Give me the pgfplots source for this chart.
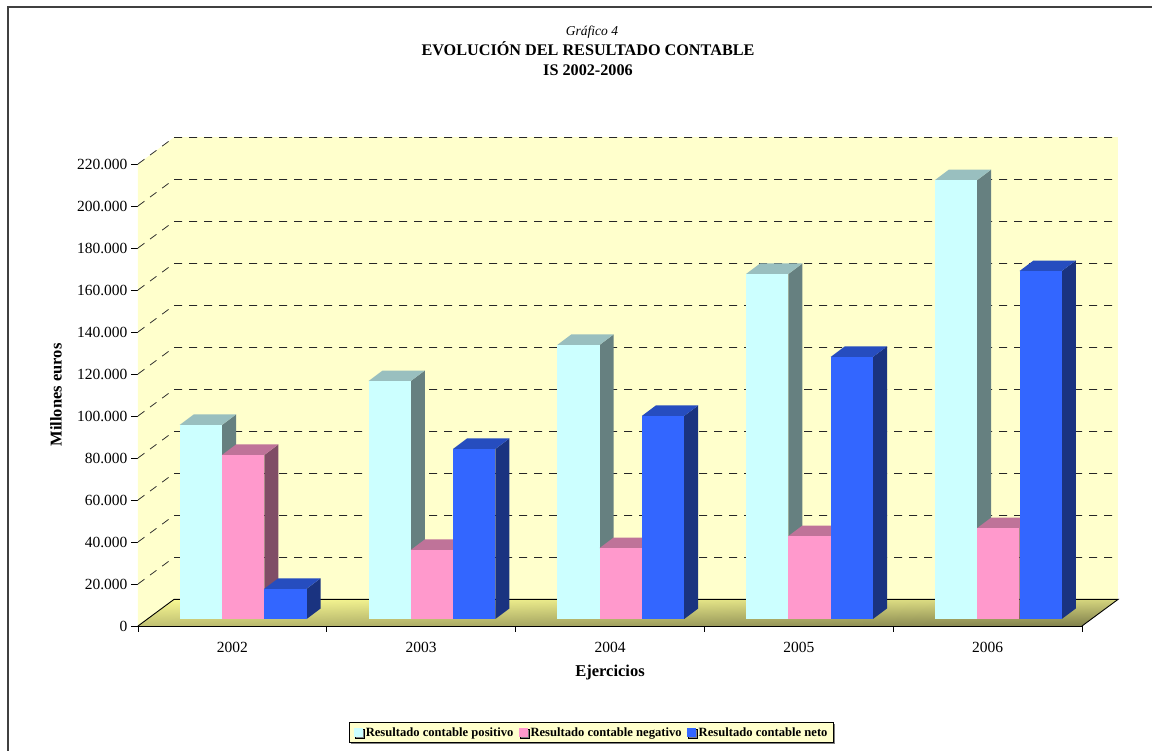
\documentclass[border=0pt]{standalone}
\usepackage{pgfplots}
\usepackage{pgfplotstable}
\usepackage{fontspec}
\setmainfont{Liberation Serif}
\pgfplotsset{compat=1.18}
\usetikzlibrary{shadows}

\definecolor{wall}{HTML}{FFFFCC}
\definecolor{cyanF}{HTML}{CCFFFF}\definecolor{cyanT}{HTML}{99BFBF}\definecolor{cyanS}{HTML}{668080}
\definecolor{pinkF}{HTML}{FF99CC}\definecolor{pinkT}{HTML}{BF7399}\definecolor{pinkS}{HTML}{804D66}
\definecolor{blueF}{HTML}{3366FF}\definecolor{blueT}{HTML}{264DBF}\definecolor{blueS}{HTML}{1A3380}

% floor of the chart box: darkens towards the front and towards the right
% (the filled path covers the central 50bp square of the shading)
\pgfdeclarefunctionalshading{floorshade}{\pgfpoint{-50bp}{-50bp}}{\pgfpoint{50bp}{50bp}}{}{
  50 div .5 add exch 50 div .5 add exch
  exch dup .12 mul .23 add 3 -1 roll mul exch .27 mul neg .77 add add
  dup .98 mul exch dup .98 mul exch .58 mul
}

% year, slot (0,1,2), value, colour stem: one solid bar with its side and top faces
\newcommand{\solidbar}[4]{%
  \pgfmathsetmacro\xl{#1+(-52.7+42.3*#2)/188.8}%
  \pgfmathsetmacro\xr{\xl+0.2240}%
  \pgfmathsetmacro\xd{\xr+0.0742}%
  \pgfmathsetmacro\xb{\xl+0.0742}%
  \edef\yb{\the\numexpr3333\relax}%
  \edef\ybd{\the\numexpr3333+5000\relax}%
  \edef\yt{\the\numexpr3333+#3\relax}%
  \edef\ytd{\the\numexpr3333+#3+5000\relax}%
  \edef\drawfaces{%
    \noexpand\addplot[forget plot,fill=#4S,draw=none] coordinates {(\xr,\yb)(\xd,\ybd)(\xd,\ytd)(\xr,\yt)} --cycle;
    \noexpand\addplot[forget plot,fill=#4T,draw=none] coordinates {(\xl,\yt)(\xr,\yt)(\xd,\ytd)(\xb,\ytd)} --cycle;
    \noexpand\addplot[forget plot,fill=#4F,draw=none] coordinates {(\xl,\yb)(\xr,\yb)(\xr,\yt)(\xl,\yt)} --cycle;
  }\drawfaces
}

% one dashed gridline across the side wall and the back wall
\newcommand{\gridat}[1]{%
  \edef\ygrid{\the\numexpr#1+12667\relax}%
  \edef\drawgrid{%
    \noexpand\addplot[forget plot,black!85,line width=0.75pt,dash pattern=on 8pt off 7pt] coordinates {(2001.5,#1)(2001.6907,\ygrid)(2006.6907,\ygrid)};
  }\drawgrid
}

\begin{document}
\begin{tikzpicture}
\path[use as bounding box] (-138pt,-125pt) rectangle (1014pt,626pt);
\draw[line width=2pt,black!75] (-130.2pt,-125pt) -- (-130.2pt,619.2pt) -- (1014pt,619.2pt);
\begin{axis}[
  scale only axis, width=944pt, height=462pt,
  xmin=2001.5, xmax=2006.5, ymin=0, ymax=220000,
  clip=false,
  axis lines=left,
  axis line style={-,line width=0.9pt,black},
  tick align=outside,
  xtick={2002,2003,2004,2005,2006},
  xticklabels={2002,2003,2004,2005,2006},
  minor xtick={2001.5,2002.5,2003.5,2004.5,2005.5,2006.5},
  major x tick style={draw=none},
  minor tick length=6pt,
  minor x tick style={line width=0.8pt,black},
  ytick={0,20000,40000,60000,80000,100000,120000,140000,160000,180000,200000,220000},
  yticklabels={0,20.000,40.000,60.000,80.000,100.000,120.000,140.000,160.000,180.000,200.000,220.000},
  major tick length=7pt,
  y tick style={line width=0.8pt,black},
  scaled y ticks=false,
  tick label style={font=\fontsize{15.5}{17}\selectfont},
  xticklabel style={yshift=-6pt},
  xlabel={Ejercicios},
  ylabel={Millones euros},
  label style={font=\fontsize{16.5}{18}\selectfont\bfseries},
  xlabel style={at={(axis description cs:0.5,-0.1)},anchor=center},
  ylabel style={at={(axis description cs:-0.0869,0.5)},anchor=center},
  title={\hspace*{8pt}{\fontsize{13.5}{20}\selectfont\textit{Gráfico 4}}\\\textbf{EVOLUCIÓN DEL RESULTADO CONTABLE}\\\textbf{IS 2002-2006}},
  title style={at={(axis description cs:0.4767,1.2944)},anchor=north,align=center,
    font=\fontsize{16.2}{20}\selectfont},
  legend style={at={(axis description cs:0.7372,-0.2075)},anchor=north east,
    legend columns=-1,fill=wall,draw=black,line width=0.8pt,
    font=\fontsize{12.6}{14}\selectfont\bfseries,
    inner xsep=4pt,inner ysep=3pt,
    general shadow={shadow xshift=1.5pt,shadow yshift=-1.5pt,fill=gray},
    /tikz/every even column/.style={column sep=3pt}},
  legend cell align=left,
  swatch/.style={legend image code/.code={\path[draw=none] (0pt,0pt) -- (10pt,0pt);\fill[##1,draw=none] (0pt,-4.5pt) rectangle (9pt,4.5pt);}},
]
% walls and floor
\addplot[forget plot,fill=wall,draw=none] coordinates {(2001.5,0)(2001.6907,12667)(2001.6907,232667)(2001.5,220000)} --cycle;
\addplot[forget plot,fill=wall,draw=none] coordinates {(2001.6907,12667)(2006.6907,12667)(2006.6907,232667)(2001.6907,232667)} --cycle;
\path[shading=floorshade] (axis cs:2001.5,0) -- (axis cs:2006.5,0) -- (axis cs:2006.6907,12667) -- (axis cs:2001.6907,12667) -- cycle;
\addplot[forget plot,black,line width=0.9pt] coordinates {(2001.5,0)(2001.6907,12667)(2006.6907,12667)(2006.5,0)};
% gridlines
\gridat{20000}\gridat{40000}\gridat{60000}\gridat{80000}\gridat{100000}\gridat{120000}
\gridat{140000}\gridat{160000}\gridat{180000}\gridat{200000}\gridat{220000}
% Resultado contable positivo
\solidbar{2002}{0}{92400}{cyan}
\solidbar{2003}{0}{113300}{cyan}
\solidbar{2004}{0}{130500}{cyan}
\solidbar{2005}{0}{164300}{cyan}
\solidbar{2006}{0}{209000}{cyan}
% Resultado contable negativo
\solidbar{2002}{1}{78100}{pink}
\solidbar{2003}{1}{32900}{pink}
\solidbar{2004}{1}{33800}{pink}
\solidbar{2005}{1}{39500}{pink}
\solidbar{2006}{1}{43300}{pink}
% Resultado contable neto
\solidbar{2002}{2}{14400}{blue}
\solidbar{2003}{2}{81000}{blue}
\solidbar{2004}{2}{96700}{blue}
\solidbar{2005}{2}{124800}{blue}
\solidbar{2006}{2}{165700}{blue}
\addlegendimage{swatch,fill=cyanF}
\addlegendentry{Resultado contable positivo}
\addlegendimage{swatch,fill=pinkF}
\addlegendentry{Resultado contable negativo}
\addlegendimage{swatch,fill=blueF}
\addlegendentry{Resultado contable neto}
\end{axis}
\end{tikzpicture}
\end{document}
